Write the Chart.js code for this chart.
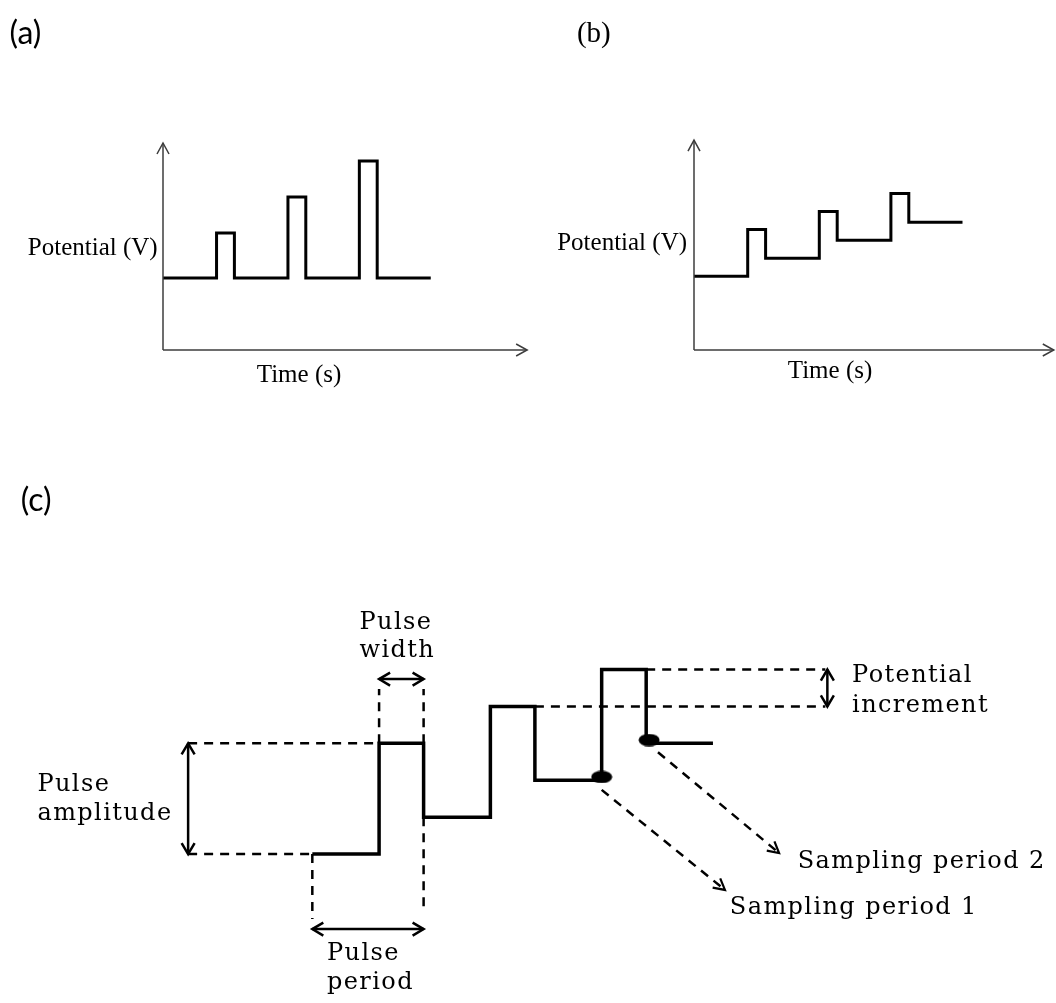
<!DOCTYPE html>
<html>
<head>
<meta charset="utf-8">
<script src="https://cdn.jsdelivr.net/npm/chart.js@4.4.1/dist/chart.umd.min.js"></script>
<style>
  html, body { margin:0; padding:0; background:#fff; width:1056px; height:1003px; overflow:hidden; }
  canvas { position:absolute; display:block; }
</style>
</head>
<body>
<canvas id="ca" width="530" height="420" style="left:0;top:0"></canvas>
<canvas id="cb" width="526" height="420" style="left:530px;top:0"></canvas>
<canvas id="cc" width="1056" height="563" style="left:0;top:440px"></canvas>
<script>
// ---------------- DATA ----------------
// Panel (a): normal pulse voltammetry waveform
const aTime      = [0, 3, 3, 4, 4, 7, 7, 8, 8, 11, 11, 12, 12, 15];
const aPotential = [2, 2, 3.25, 3.25, 2, 2, 4.25, 4.25, 2, 2, 5.25, 5.25, 2, 2];
const aAxisEnd   = [20.4, 5.75];          // [time axis length, potential axis length]

// Panel (b): differential pulse waveform
const bTime      = [0, 3, 3, 4, 4, 7, 7, 8, 8, 11, 11, 12, 12, 15];
const bPotential = [2.05, 2.05, 3.35, 3.35, 2.55, 2.55, 3.85, 3.85, 3.05, 3.05, 4.35, 4.35, 3.55, 3.55];
const bAxisEnd   = [20.1, 5.83];

// Panel (c): annotated differential pulse waveform
const cTime      = [0, 3, 3, 5, 5, 8, 8, 10, 10, 13, 13, 15, 15, 18];
const cPotential = [0, 0, 3, 3, 1, 1, 4, 4, 2, 2, 5, 5, 3, 3];
const cSampleTime      = [13, 15.13];
const cSamplePotential = [2.09, 3.09];

// guide lines of panel (c) as [time, potential] pairs
const cAmpTopGuide    = [[-5.58, 3], [3, 3]];
const cAmpBottomGuide = [[-5.58, 0], [0, 0]];
const cWidthLeftGuide  = [[3, 3], [3, 4.47]];
const cWidthRightGuide = [[5, 3], [5, 4.47]];
const cPeriodLeftGuide  = [[0, 0], [0, -1.76]];
const cPeriodRightGuide = [[5, 1], [5, -1.58]];
const cIncTopGuide    = [[15, 5], [23.05, 5]];
const cIncBottomGuide = [[10, 4], [23.05, 4]];
const cSample1Arrow = [[13, 1.74], [18.54, -0.97]];
const cSample2Arrow = [[15.53, 2.76], [20.97, 0.03]];
const cAmpArrow    = [[-5.58, 0], [-5.58, 3]];
const cWidthArrow  = [[3, 4.74], [5, 4.74]];
const cPeriodArrow = [[0, -2.03], [5, -2.03]];
const cIncArrow    = [[23.14, 4], [23.14, 5]];

// text labels
const aTexts = ['(a)', 'Potential (V)', 'Time (s)'];
const bTexts = ['(b)', 'Potential (V)', 'Time (s)'];
const cTexts = ['(c)', 'Pulse', 'amplitude', 'Pulse', 'width', 'Pulse', 'period',
                'Potential', 'increment', 'Sampling period 2', 'Sampling period 1'];

// ---------------- HELPERS ----------------
const zip = (xs, ys) => xs.map((x, i) => ({x, y: ys[i]}));
const pairs = arr => arr.map(p => ({x: p[0], y: p[1]}));

function frame(w, h, ox, oy, ux, uy) {
  return {
    x: {type:'linear', display:false, min: -ox/ux, max: (w-ox)/ux},
    y: {type:'linear', display:false, min: -(h-oy)/uy, max: oy/uy}
  };
}

const arrowPlugin = {
  id: 'arrowHeads',
  afterDatasetsDraw(chart) {
    const ctx = chart.ctx;
    chart.data.datasets.forEach((ds, i) => {
      const h = ds.arrowHead;
      if (!h) return;
      const pts = chart.getDatasetMeta(i).data;
      if (pts.length < 2) return;
      const draw = (tip, from) => {
        const ang = Math.atan2(tip.y - from.y, tip.x - from.x);
        ctx.save();
        ctx.strokeStyle = ds.borderColor;
        ctx.lineWidth = h.width;
        ctx.setLineDash([]);
        ctx.lineJoin = 'miter';
        ctx.lineCap = 'butt';
        ctx.translate(tip.x, tip.y);
        ctx.rotate(ang);
        ctx.beginPath();
        ctx.moveTo(-h.len, -h.half);
        ctx.lineTo(0, 0);
        ctx.lineTo(-h.len, h.half);
        ctx.stroke();
        ctx.restore();
      };
      if (h.ends === 'end' || h.ends === 'both') draw(pts[pts.length-1], pts[pts.length-2]);
      if (h.ends === 'start' || h.ends === 'both') draw(pts[0], pts[1]);
    });
  }
};

function textPlugin(items) {
  return {
    id: 'panelText',
    afterDraw(chart) {
      const {ctx, scales} = chart;
      items.forEach(it => {
        ctx.save();
        ctx.font = it.font;
        ctx.fillStyle = it.color || '#000';
        ctx.textAlign = it.align || 'left';
        ctx.textBaseline = 'alphabetic';
        if ('letterSpacing' in ctx) ctx.letterSpacing = it.spacing || '0px';
        ctx.fillText(it.text, scales.x.getPixelForValue(it.x), scales.y.getPixelForValue(it.y));
        ctx.restore();
      });
    }
  };
}

function line(points, opts) {
  return Object.assign({
    data: points, showLine: true, pointRadius: 0, borderColor: '#000',
    borderWidth: 3, tension: 0, fill: false, borderJoinStyle: 'miter',
    borderCapStyle: 'butt', clip: false
  }, opts || {});
}

function baseOptions(scales) {
  return {
    responsive: false, animation: false, events: [],
    devicePixelRatio: 1,
    layout: {padding: 0},
    plugins: {legend: {display: false}, tooltip: {enabled: false}, title: {display:false}},
    scales
  };
}

const AXIS = '#3c3c3c';
const axisHead = {ends: 'end', len: 11, half: 6, width: 1.5};
const serifA = '25px "Liberation Serif", "Times New Roman", serif';
const sansLbl = '32px Lato, "Open Sans", sans-serif';
const serifC = '24px "DejaVu Serif", serif';
const solidHead = {ends: 'both', len: 11, half: 6.5, width: 2.5};
const DASH = [9, 7];

// ---------------- PANEL (a) ----------------
new Chart(document.getElementById('ca'), {
  type: 'scatter',
  data: { datasets: [
    line([{x:0, y:0}, {x:aAxisEnd[0], y:0}], {borderColor: AXIS, borderWidth: 1.5, arrowHead: axisHead}),
    line([{x:0, y:0}, {x:0, y:aAxisEnd[1]}], {borderColor: AXIS, borderWidth: 1.5, arrowHead: axisHead}),
    line(zip(aTime, aPotential), {borderWidth: 3})
  ]},
  options: baseOptions(frame(530, 420, 163, 350, 17.85, 36)),
  plugins: [arrowPlugin, textPlugin([
    {text: aTexts[0], x: -8.6, y: 8.5, font: sansLbl},
    {text: aTexts[1], x: -0.3, y: 2.64, font: serifA, align: 'right'},
    {text: aTexts[2], x: 7.62, y: -0.89, font: serifA, align: 'center'}
  ])]
});

// ---------------- PANEL (b) ----------------
new Chart(document.getElementById('cb'), {
  type: 'scatter',
  data: { datasets: [
    line([{x:0, y:0}, {x:bAxisEnd[0], y:0}], {borderColor: AXIS, borderWidth: 1.5, arrowHead: axisHead}),
    line([{x:0, y:0}, {x:0, y:bAxisEnd[1]}], {borderColor: AXIS, borderWidth: 1.5, arrowHead: axisHead}),
    line(zip(bTime, bPotential), {borderWidth: 3})
  ]},
  options: baseOptions(frame(526, 420, 164, 350, 17.9, 36)),
  plugins: [arrowPlugin, textPlugin([
    {text: bTexts[0], x: -6.54, y: 8.56, font: '29px "Liberation Serif", serif'},
    {text: bTexts[1], x: -0.39, y: 2.78, font: serifA, align: 'right'},
    {text: bTexts[2], x: 7.6, y: -0.78, font: serifA, align: 'center'}
  ])]
});

// ---------------- PANEL (c) ----------------
const dot = document.createElement('canvas');
dot.width = 22; dot.height = 13;
(() => { const g = dot.getContext('2d'); g.fillStyle = '#000'; g.beginPath();
  g.ellipse(11, 6.5, 10.5, 6.3, 0, 0, Math.PI*2); g.fill(); })();

new Chart(document.getElementById('cc'), {
  type: 'scatter',
  data: { datasets: [
    line(pairs(cAmpTopGuide),      {borderWidth: 2.5, borderDash: DASH}),
    line(pairs(cAmpBottomGuide),   {borderWidth: 2.5, borderDash: DASH}),
    line(pairs(cWidthLeftGuide),   {borderWidth: 2.5, borderDash: DASH}),
    line(pairs(cWidthRightGuide),  {borderWidth: 2.5, borderDash: DASH}),
    line(pairs(cPeriodLeftGuide),  {borderWidth: 2.5, borderDash: DASH}),
    line(pairs(cPeriodRightGuide), {borderWidth: 2.5, borderDash: DASH}),
    line(pairs(cIncTopGuide),      {borderWidth: 2.5, borderDash: DASH}),
    line(pairs(cIncBottomGuide),   {borderWidth: 2.5, borderDash: DASH}),
    line(pairs(cSample1Arrow), {borderWidth: 2.5, borderDash: DASH, arrowHead: {ends:'end', len: 11, half: 6, width: 2.2}}),
    line(pairs(cSample2Arrow), {borderWidth: 2.5, borderDash: DASH, arrowHead: {ends:'end', len: 11, half: 6, width: 2.2}}),
    line(pairs(cAmpArrow),    {borderWidth: 2.5, arrowHead: solidHead}),
    line(pairs(cWidthArrow),  {borderWidth: 2.5, arrowHead: solidHead}),
    line(pairs(cPeriodArrow), {borderWidth: 2.5, arrowHead: solidHead}),
    line(pairs(cIncArrow),    {borderWidth: 2.5, arrowHead: solidHead}),
    line(zip(cTime, cPotential), {borderWidth: 3.5}),
    {data: zip(cSampleTime, cSamplePotential), showLine: false, pointStyle: dot,
     pointRadius: 7, backgroundColor: '#000', borderColor: '#000', clip: false}
  ]},
  options: baseOptions(frame(1056, 563, 309, 418, 22.6, 38)),
  plugins: [arrowPlugin, textPlugin([
    {text: cTexts[0], x: -13.1, y: 9.3, font: sansLbl},
    {text: cTexts[1], x: -12.35, y: 1.71, font: serifC, spacing: '1.4px'},
    {text: cTexts[2], x: -12.35, y: 0.92, font: serifC, spacing: '1.4px'},
    {text: cTexts[3], x: 2.12, y: 6.11, font: serifC, spacing: '1.4px'},
    {text: cTexts[4], x: 2.12, y: 5.34, font: serifC, spacing: '1.4px'},
    {text: cTexts[5], x: 0.66, y: -2.87, font: serifC, spacing: '1.4px'},
    {text: cTexts[6], x: 0.66, y: -3.66, font: serifC, spacing: '1.4px'},
    {text: cTexts[7], x: 24.25, y: 4.66, font: serifC, spacing: '1.4px'},
    {text: cTexts[8], x: 24.25, y: 3.84, font: serifC, spacing: '1.4px'},
    {text: cTexts[9], x: 21.81, y: -0.37, font: serifC, spacing: '1.4px'},
    {text: cTexts[10], x: 18.76, y: -1.61, font: serifC, spacing: '1.4px'}
  ])]
});
</script>
</body>
</html>
